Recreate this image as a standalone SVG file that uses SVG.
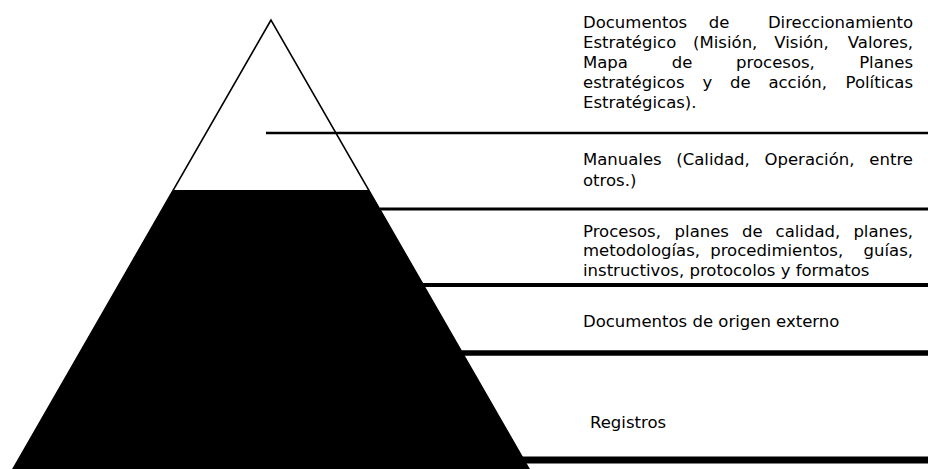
<svg xmlns="http://www.w3.org/2000/svg" width="928" height="469" viewBox="0 0 928 469">
<style>
text{font-family:"DejaVu Sans","Noto Sans",sans-serif;font-size:16.5px;fill:#000}
.e{text-anchor:end}
.sep{stroke:#000;fill:none}
</style>
<rect width="928" height="469" fill="#fff"/>
<g id="pyramid">
<polygon points="271,20 13,469 529,469" fill="#fff" stroke="#000" stroke-width="1.6"/>
<polygon points="173,190 369,190 529,469 13,469" fill="#000"/>
</g>
<g id="separators">
<line class="sep" x1="266" y1="133" x2="928" y2="133" stroke-width="2.5"/>
<line class="sep" x1="380" y1="209" x2="928" y2="209" stroke-width="3"/>
<line class="sep" x1="423" y1="285" x2="928" y2="285" stroke-width="4"/>
<line class="sep" x1="462" y1="353" x2="928" y2="353" stroke-width="5.5"/>
<line class="sep" x1="522" y1="460" x2="928" y2="460" stroke-width="7"/>
</g>
<g id="nivel-estrategico">
<text x="583" y="28">Documentos</text><text x="708.8" y="28">de</text><text class="e" x="913" y="28">Direccionamiento</text>
<text x="583" y="48">Estratégico</text><text x="693.1" y="48">(Misión,</text><text x="774.3" y="48">Visión,</text><text class="e" x="913" y="48">Valores,</text>
<text x="583" y="68">Mapa</text><text x="671.7" y="68">de</text><text x="736.1" y="68">procesos,</text><text class="e" x="913" y="68">Planes</text>
<text x="583" y="88">estratégicos</text><text x="702.4" y="88">y</text><text x="730" y="88">de</text><text x="768.4" y="88">acción,</text><text class="e" x="913" y="88">Políticas</text>
<text x="583" y="108">Estratégicas).</text>
</g>
<g id="nivel-manuales">
<text x="583" y="165">Manuales</text><text x="676.3" y="165">(Calidad,</text><text x="764.5" y="165">Operación,</text><text class="e" x="913" y="165">entre</text>
<text x="583" y="186">otros.)</text>
</g>
<g id="nivel-procesos">
<text x="583" y="237">Procesos,</text><text x="674.6" y="237">planes</text><text x="742" y="237">de</text><text x="775.6" y="237">calidad,</text><text class="e" x="913" y="237">planes,</text>
<text x="583" y="256">metodologías,</text><text x="710.2" y="256">procedimientos,</text><text class="e" x="913" y="256">guías,</text>
<text x="583" y="276">instructivos, protocolos y formatos</text>
</g>
<g id="nivel-externos">
<text x="583" y="327">Documentos de origen externo</text>
</g>
<g id="nivel-registros">
<text x="590" y="428">Registros</text>
</g>
</svg>
